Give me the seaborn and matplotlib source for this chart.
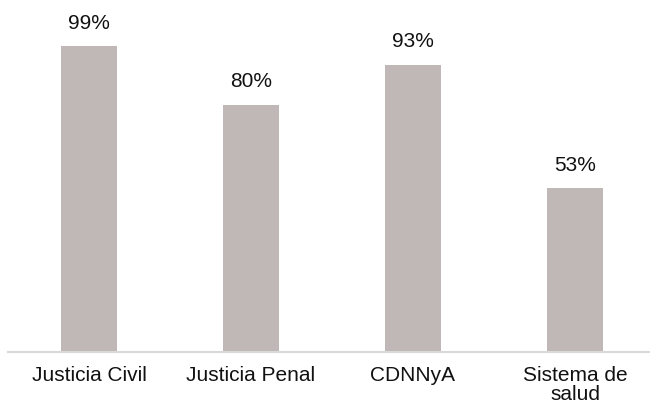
import matplotlib
matplotlib.use("Agg")
import matplotlib.pyplot as plt
import seaborn as sns
import pandas as pd

categories = ["Justicia Civil", "Justicia Penal", "CDNNyA", "Sistema de\nsalud"]
values = [99, 80, 93, 53]

df = pd.DataFrame({"categoria": categories, "valor": values})

sns.set_theme(style="white")
plt.rcParams['font.family'] = ['Liberation Sans', 'DejaVu Sans']

fig = plt.figure(figsize=(6.5, 4.09), dpi=100)
ax = fig.add_axes([8 / 650, 1 - 352 / 409, 642 / 650, 352 / 409])

sns.barplot(data=df, x="categoria", y="valor", color="#BFB8B7", width=0.34,
            saturation=1, linewidth=0, ax=ax)

# etiquetas de porcentaje sobre cada barra
for i, v in enumerate(values):
    ax.text(i, v + 4.3, f"{v}%", ha="center", va="bottom", fontsize=15, color="#111111")

ax.set_xlim(-0.5, 3.463)
ax.set_ylim(0, 113.9)
ax.set_xlabel("")
ax.set_ylabel("")
ax.set_yticks([])
for s in ["top", "right", "left"]:
    ax.spines[s].set_visible(False)
ax.spines["bottom"].set_color("#D9D9D9")
ax.spines["bottom"].set_linewidth(1.5)
ax.tick_params(axis="x", length=0, pad=10, labelsize=15, colors="#111111")
for lbl in ax.get_xticklabels():
    lbl.set_linespacing(1.0)

fig.savefig("out.png", dpi=100)
